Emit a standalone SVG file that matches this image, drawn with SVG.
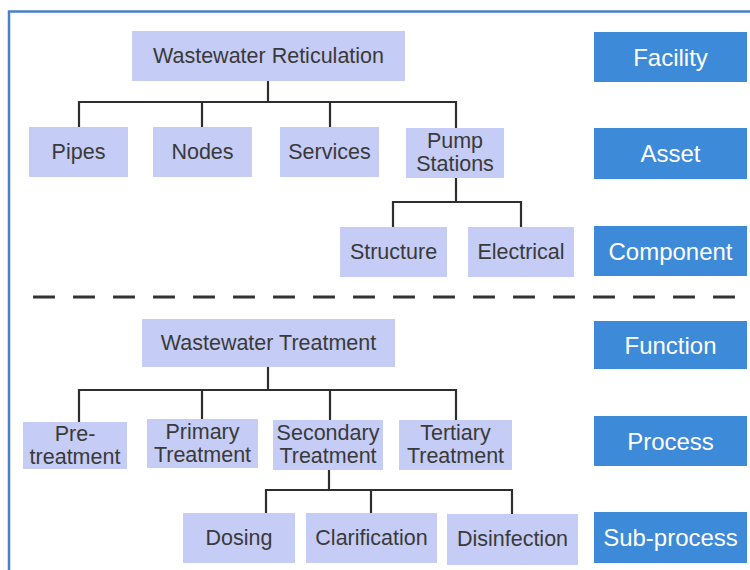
<svg xmlns="http://www.w3.org/2000/svg" width="750" height="570" viewBox="0 0 750 570">
<style>
.n{fill:#c5ccf5}
.l{fill:#3d8ad8}
.t{font-family:"Liberation Sans",Arial,sans-serif;font-size:21.5px;fill:#3a3a3a;text-anchor:middle;dominant-baseline:central}
.w{font-family:"Liberation Sans",Arial,sans-serif;font-size:24px;fill:#ffffff;text-anchor:middle;dominant-baseline:central}
.c{fill:none;stroke:#2e2e2e;stroke-width:2.2}
</style>
<rect width="750" height="570" fill="#ffffff"/>
<path d="M9 570 V11.5 H750" fill="none" stroke="#4a80c8" stroke-width="2.5"/>
<g id="connectors" class="c">
<path d="M268 81 V102 M79 127 V102 H456 V128 M202 102 V127 M330 102 V127"/>
<path d="M456 178 V202 M393 227 V202 H521 V227"/>
<path d="M268 367 V390 M79 422 V390 H456 V420 M202 390 V419 M330 390 V420"/>
<path d="M329 470 V490 M266 514 V490 H512 V514 M371 490 V513"/>
</g>
<line x1="33" y1="297" x2="750" y2="297" stroke="#333333" stroke-width="3" stroke-dasharray="22 18"/>
<g id="wastewater-reticulation"><rect class="n" x="132" y="31" width="273" height="50"/><text class="t" x="268.5" y="56">Wastewater Reticulation</text></g>
<g id="pipes"><rect class="n" x="29" y="127" width="99" height="50"/><text class="t" x="78.5" y="152">Pipes</text></g>
<g id="nodes"><rect class="n" x="153" y="127" width="99" height="50"/><text class="t" x="202.5" y="152">Nodes</text></g>
<g id="services"><rect class="n" x="280" y="127" width="99" height="50"/><text class="t" x="329.5" y="152">Services</text></g>
<g id="pump-stations"><rect class="n" x="406" y="128" width="98" height="50"/><text class="t" x="455" y="141">Pump</text><text class="t" x="455" y="164">Stations</text></g>
<g id="structure"><rect class="n" x="340" y="227" width="107" height="50"/><text class="t" x="393.5" y="252">Structure</text></g>
<g id="electrical"><rect class="n" x="468" y="227" width="106" height="50"/><text class="t" x="521" y="252">Electrical</text></g>
<g id="wastewater-treatment"><rect class="n" x="142" y="319" width="253" height="48"/><text class="t" x="268.5" y="343">Wastewater Treatment</text></g>
<g id="pre-treatment"><rect class="n" x="23" y="422" width="104" height="47"/><text class="t" x="75" y="434">Pre-</text><text class="t" x="75" y="457">treatment</text></g>
<g id="primary-treatment"><rect class="n" x="147" y="419" width="111" height="49"/><text class="t" x="202.5" y="432">Primary</text><text class="t" x="202.5" y="455">Treatment</text></g>
<g id="secondary-treatment"><rect class="n" x="273" y="420" width="110" height="50"/><text class="t" x="328" y="433">Secondary</text><text class="t" x="328" y="456">Treatment</text></g>
<g id="tertiary-treatment"><rect class="n" x="399" y="420" width="113" height="50"/><text class="t" x="455.5" y="433">Tertiary</text><text class="t" x="455.5" y="456">Treatment</text></g>
<g id="dosing"><rect class="n" x="183" y="513" width="112" height="50"/><text class="t" x="239" y="538">Dosing</text></g>
<g id="clarification"><rect class="n" x="306" y="513" width="131" height="50"/><text class="t" x="371.5" y="538">Clarification</text></g>
<g id="disinfection"><rect class="n" x="447" y="514" width="131" height="51"/><text class="t" x="512.5" y="539">Disinfection</text></g>
<g id="facility"><rect class="l" x="594" y="32" width="153" height="50"/><text class="w" x="670.5" y="57">Facility</text></g>
<g id="asset"><rect class="l" x="594" y="128" width="153" height="51"/><text class="w" x="670.5" y="153.5">Asset</text></g>
<g id="component"><rect class="l" x="594" y="226" width="153" height="50"/><text class="w" x="670.5" y="251">Component</text></g>
<g id="function"><rect class="l" x="594" y="321" width="153" height="48"/><text class="w" x="670.5" y="345">Function</text></g>
<g id="process"><rect class="l" x="594" y="416" width="153" height="50"/><text class="w" x="670.5" y="441">Process</text></g>
<g id="sub-process"><rect class="l" x="594" y="512" width="153" height="51"/><text class="w" x="670.5" y="537.5">Sub-process</text></g>
</svg>
